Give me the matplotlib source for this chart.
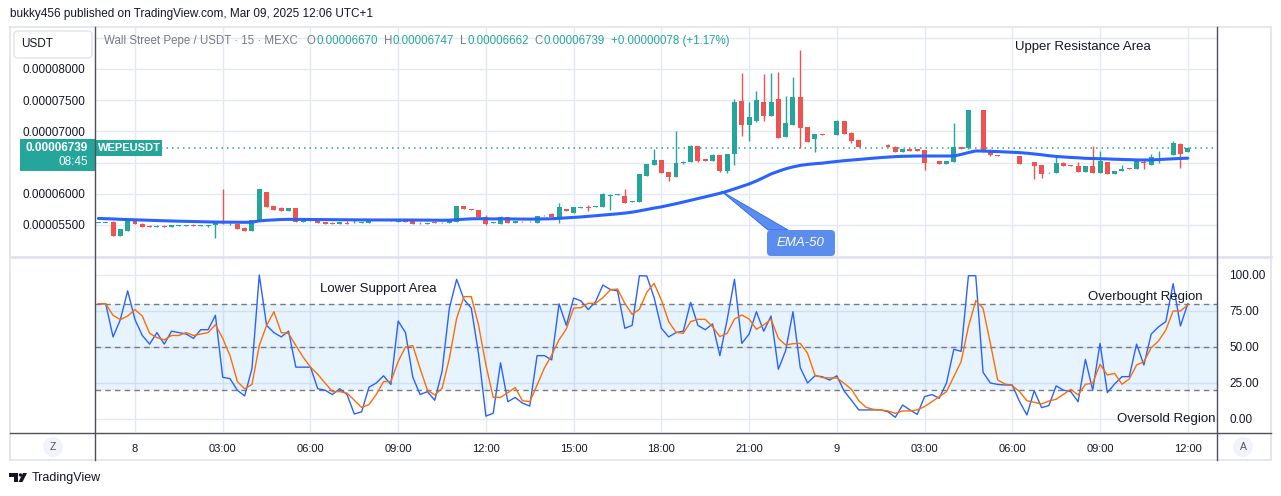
import numpy as np
import matplotlib
matplotlib.use("Agg")
import matplotlib.pyplot as plt
from matplotlib.patches import Rectangle, FancyBboxPatch, Polygon, Ellipse
from matplotlib.lines import Line2D
from matplotlib.transforms import IdentityTransform

plt.rcParams['font.family'] = ['Liberation Sans', 'DejaVu Sans']

# WEPE/USDT 15m candles, prices in units of 1e-8 USDT, first bar = 22:45 (index -5)
first_bar = -5
opens = [5542, 5544, 5552, 5320, 5400,
         5580, 5516, 5482, 5464, 5490, 5470, 5490, 5490, 5492, 5486,
         5484, 5504, 5542, 5510, 5515, 5450, 5404, 5563, 6028, 5804,
         5767, 5724, 5772, 5547, 5590, 5580, 5547, 5535, 5515, 5537,
         5530, 5530, 5532, 5578, 5588, 5592, 5547, 5580, 5580, 5535,
         5525, 5547, 5527, 5527, 5553, 5804, 5752, 5740, 5630, 5532,
         5519, 5628, 5536, 5550, 5550, 5537, 5640, 5676, 5633, 5756,
         5698, 5780, 5786, 5788, 5793, 5972, 5982, 5964, 5875, 5873,
         6290, 6466, 6541, 6349, 6274, 6488, 6509, 6766, 6557, 6520,
         6621, 6360, 6637, 7487, 7108, 7172, 7476, 7252, 7519, 6915,
         7108, 7551, 7065, 6883, 6950, 6955, 6942, 7166, 6979, 6862,
         6762, 6762, 6762, 6776, 6755, 6675, 6718, 6712, 6702, 6522,
         6525, 6482, 6515, 6750, 6728, 7340, 7343, 6691, 6618, 6608,
         6602, 6605, 6490, 6509, 6461, 6330, 6333, 6493, 6452, 6445,
         6354, 6445, 6338, 6509, 6322, 6370, 6410, 6402, 6515, 6466,
         6618, 6634, 6626, 6803, 6670]
highs = [5546, 5547, 5556, 5440, 5612,
         5586, 5524, 5492, 5494, 5494, 5500, 5506, 5506, 5518, 5502,
         5492, 5546, 6076, 5524, 5520, 5465, 5586, 6082, 6032, 5808,
         5782, 5774, 5776, 5582, 5594, 5584, 5550, 5546, 5550, 5560,
         5580, 5540, 5583, 5586, 5596, 5596, 5584, 5602, 5584, 5540,
         5532, 5556, 5540, 5594, 5808, 5808, 5755, 5745, 5665, 5542,
         5636, 5632, 5570, 5556, 5556, 5648, 5652, 5690, 5852, 5760,
         5786, 5790, 5820, 5800, 6017, 5990, 5992, 6071, 5886, 6320,
         6480, 6723, 6545, 6352, 7006, 6525, 6780, 6770, 6560, 6630,
         6624, 6640, 7514, 7930, 7476, 7647, 7920, 7940, 7957, 7567,
         7877, 8305, 7075, 6960, 6955, 6962, 7180, 7170, 6985, 6866,
         6770, 6770, 6770, 6790, 6760, 6722, 6722, 6716, 6706, 6530,
         6530, 6528, 7140, 6755, 7346, 7350, 7346, 6720, 6622, 6612,
         6612, 6608, 6500, 6512, 6465, 6345, 6595, 6505, 6456, 6515,
         6449, 6766, 6686, 6512, 6369, 6461, 6414, 6545, 6552, 6637,
         6686, 6645, 6846, 6810, 6747]
lows = [5540, 5541, 5318, 5316, 5396,
        5512, 5464, 5466, 5462, 5460, 5468, 5488, 5487, 5480, 5484,
        5462, 5291, 5520, 5506, 5430, 5395, 5400, 5560, 5785, 5738,
        5722, 5722, 5545, 5545, 5558, 5532, 5512, 5512, 5512, 5515,
        5526, 5527, 5530, 5575, 5585, 5560, 5545, 5545, 5512, 5522,
        5522, 5524, 5524, 5524, 5550, 5748, 5744, 5620, 5505, 5528,
        5516, 5530, 5530, 5540, 5540, 5534, 5637, 5630, 5536, 5726,
        5695, 5777, 5730, 5785, 5790, 5740, 5978, 5855, 5872, 5870,
        6286, 6463, 6335, 6199, 6270, 6480, 6505, 6505, 6517, 6517,
        6356, 6340, 6456, 6931, 6846, 7150, 7172, 7240, 6890, 6905,
        7100, 6728, 6825, 6675, 6943, 6952, 6938, 6955, 6808, 6752,
        6758, 6758, 6758, 6752, 6672, 6672, 6688, 6688, 6381, 6519,
        6479, 6479, 6512, 6715, 6725, 7338, 6676, 6612, 6608, 6598,
        6598, 6478, 6486, 6242, 6253, 6326, 6330, 6447, 6444, 6350,
        6350, 6334, 6335, 6318, 6318, 6367, 6400, 6398, 6402, 6462,
        6488, 6630, 6622, 6418, 6662]
closes = [5545, 5546, 5323, 5435, 5580,
          5516, 5468, 5470, 5490, 5464, 5492, 5497, 5498, 5482, 5494,
          5488, 5542, 5530, 5521, 5435, 5408, 5580, 6076, 5788, 5740,
          5724, 5772, 5547, 5580, 5560, 5535, 5515, 5515, 5547, 5518,
          5535, 5537, 5580, 5583, 5593, 5563, 5580, 5547, 5515, 5525,
          5530, 5527, 5537, 5590, 5804, 5750, 5746, 5623, 5510, 5538,
          5631, 5532, 5558, 5543, 5543, 5644, 5646, 5633, 5783, 5729,
          5783, 5786, 5780, 5795, 5996, 5978, 5988, 5857, 5882, 6317,
          6477, 6541, 6338, 6274, 6488, 6509, 6766, 6531, 6520, 6621,
          6360, 6637, 7476, 7108, 7225, 7503, 7247, 7476, 6899, 7140,
          7551, 7060, 6835, 6953, 6945, 6960, 7166, 6958, 6851, 6755,
          6768, 6768, 6768, 6755, 6675, 6718, 6691, 6691, 6498, 6528,
          6482, 6525, 6750, 6718, 7343, 7346, 6680, 6616, 6612, 6602,
          6608, 6482, 6496, 6445, 6322, 6336, 6493, 6450, 6448, 6354,
          6445, 6338, 6525, 6322, 6365, 6402, 6405, 6541, 6488, 6584,
          6624, 6640, 6814, 6637, 6739]
ema50 = [5604, 5600, 5596, 5590, 5586,
         5582, 5578, 5573, 5569, 5566, 5563, 5560, 5557, 5554, 5551,
         5548, 5546, 5545, 5544, 5543, 5542, 5544, 5565, 5574, 5581,
         5587, 5590, 5589, 5589, 5588, 5587, 5586, 5584, 5583, 5582,
         5581, 5580, 5580, 5580, 5580, 5580, 5580, 5580, 5579, 5578,
         5577, 5576, 5575, 5576, 5585, 5592, 5598, 5600, 5598, 5596,
         5598, 5596, 5595, 5594, 5593, 5595, 5597, 5599, 5606, 5612,
         5620, 5628, 5638, 5648, 5658, 5668, 5678, 5690, 5705, 5725,
         5748, 5770, 5790, 5815, 5840, 5868, 5895, 5922, 5950, 5978,
         6007, 6040, 6078, 6118, 6157, 6205, 6260, 6317, 6360, 6400,
         6430, 6455, 6470, 6482, 6490, 6505, 6518, 6530, 6540, 6550,
         6560, 6570, 6580, 6588, 6595, 6600, 6603, 6605, 6605, 6605,
         6605, 6605, 6605, 6630, 6660, 6686, 6684, 6680, 6676, 6670,
         6664, 6659, 6650, 6638, 6625, 6610, 6598, 6590, 6582, 6576,
         6568, 6565, 6562, 6558, 6553, 6550, 6546, 6542, 6541, 6542,
         6548, 6553, 6560, 6566, 6570]
stoch_k = [80, 80, 57, 69, 89,
           69, 58, 52, 60, 52, 61, 60, 59, 56, 62,
           62, 72, 29, 28, 20, 16, 35, 100, 65, 60,
           57, 61, 36, 36, 36, 21, 20, 17, 21, 17,
           3.5, 5, 22, 25, 30, 24, 68, 60, 29, 17,
           19, 13, 33, 77, 97, 83, 77, 45, 2, 4,
           39, 12, 15, 11, 9, 44, 44, 41, 80, 65,
           84, 82, 76, 81.5, 93, 90, 89, 63, 65, 99.5,
           99.3, 84.5, 63, 57, 60, 61, 81, 65, 62, 66,
           44, 69, 97, 52.5, 59, 74.5, 61, 71.5, 34.5, 47.5,
           74.5, 35.6, 25, 30, 29.4, 27, 30, 19.4, 13, 6.3,
           6.3, 6.3, 6.3, 5, 1.2, 9.7, 6.3, 3.2, 15.5, 17,
           14.4, 25, 48.4, 47, 99.5, 99.5, 32.4, 25, 24, 23.6,
           23.6, 12, 2.8, 19.7, 7.9, 9.3, 23, 20, 19, 12,
           41.4, 20, 52.5, 18.3, 24.3, 29.4, 29.4, 52, 37.5, 59,
           64, 67.6, 94, 64.6, 80]
stoch_d = [80, 80, 72, 69, 71.5,
           76, 71.5, 59.5, 56.5, 55, 58, 58, 60, 58, 59,
           60, 65.5, 56, 44, 26, 21, 24, 51, 65, 74.5,
           60, 59.5, 51, 43, 36, 31, 25, 19, 19, 18,
           13, 8, 10, 17, 26, 26, 40, 50, 51, 35,
           20, 16.7, 21.3, 42, 70, 85, 85, 65, 37.5, 15,
           15, 18.3, 21.8, 12.7, 12, 23.6, 35.4, 44.4, 55, 62.5,
           77, 77.3, 80.3, 80.3, 84.3, 89.6, 90.3, 80.3, 72.7, 76.2,
           88, 94.2, 82.6, 67.6, 60.2, 59.5, 67.6, 69.2, 69.2, 64.1,
           57.2, 59.5, 69.4, 72.2, 69.4, 62.3, 65.3, 69.4, 56, 51.4,
           52.3, 52.5, 45.6, 30.6, 28.7, 28.5, 28.5, 24.8, 20.6, 12.7,
           8.1, 6.7, 6.3, 5.6, 3.9, 5.6, 5.6, 6.3, 8.6, 12,
           15.5, 19, 29.4, 39.8, 64.1, 82.2, 76.9, 52.5, 27.1, 24.3,
           23.1, 19, 12.7, 11.6, 10.4, 12.5, 13.7, 17.1, 20.6, 16.7,
           24.1, 24.8, 38, 30.6, 31.7, 24.1, 27.8, 37.5, 39.8, 49.5,
           54.2, 61.8, 75, 75, 79.2]

last_price = 6739
price_ticks = [5500, 6000, 6500, 7000, 7500, 8000, 8500]
# 0.00006500 and 0.00008500 sit under the price tag / USDT box in the original
price_tick_labels = ['0.00005500', '0.00006000', '', '0.00007000', '0.00007500',
                     '0.00008000', '']
stoch_ticks = [0, 25, 50, 75, 100]
time_tick_bars = [0, 12, 24, 36, 48, 60, 72, 84, 96, 108, 120, 132, 144]
time_tick_labels = ['8', '03:00', '06:00', '09:00', '12:00', '15:00', '18:00',
                    '21:00', '9', '03:00', '06:00', '09:00', '12:00']

W, H = 1281, 496
GREEN = '#26a69a'
RED = '#ef5350'
GRID = '#e3e9f0'
TXT = '#131722'
GRAY = '#787b86'
DARK = '#4e505a'
FRAME = '#e0e3eb'

fig = plt.figure(figsize=(W / 100, H / 100), dpi=100)
fig.patch.set_facecolor('white')
PX = IdentityTransform()


def fx(x):
    return x / W


def fy(y):
    return 1 - y / H


def rect(x0, y0, x1, y1):
    return [fx(x0), fy(y1), (x1 - x0) / W, (y1 - y0) / H]


ax = fig.add_axes(rect(95, 28, 1217, 256))
ax2 = fig.add_axes(rect(95, 258, 1217, 432))

# price pane
o = np.array(opens, float)
hi = np.array(highs, float)
lo = np.array(lows, float)
c = np.array(closes, float)
xs = np.arange(len(c)) + first_bar
cols = np.where(c >= o, GREEN, RED)
ax.vlines(xs, lo, hi, colors=cols, lw=1, zorder=3)
body = np.maximum(np.abs(c - o), 13)
ax.bar(xs, body, 0.68, (o + c) / 2 - body / 2, color=cols, lw=0, zorder=4)
xe = np.arange(len(ema50)) + first_bar
ax.plot(xe, ema50, color='#2962ff', lw=2.2, zorder=5, solid_capstyle='round')
ax.axhline(last_price, color=GREEN, lw=1.1, ls=(0, (1, 2.6)), zorder=2)

ax.set_xlim(-5.47, 148.0)
ax.set_ylim(5002, 8657)
ax.set_yticks(price_ticks)
ax.set_yticklabels(price_tick_labels)
ax.set_xticks(time_tick_bars)
ax.set_xticklabels([])
ax.tick_params(length=0)
ax.tick_params(axis='y', pad=7, labelsize=8.5, labelcolor=TXT)
ax.grid(True, color=GRID, lw=1)
ax.set_axisbelow(True)
for s in ax.spines.values():
    s.set_visible(False)

# stochastic pane
ax2.axhspan(20, 80, color='#2196f3', alpha=0.1, lw=0, zorder=1)
for lvl in (80, 50, 20):
    ax2.axhline(lvl, color=GRAY, lw=1, ls=(0, (4, 3)), zorder=2)
xk = np.arange(len(stoch_k)) + first_bar
xd = np.arange(len(stoch_d)) + first_bar
ax2.plot(xk, stoch_k, color='#2962ff', lw=1, zorder=4)
ax2.plot(xd, stoch_d, color='#ff6d00', lw=1, zorder=5)
ax2.set_xlim(-5.47, 148.0)
ax2.set_ylim(-9.03, 111.8)
ax2.set_yticks(stoch_ticks)
ax2.set_yticklabels([f"{v:.2f}" for v in stoch_ticks])
ax2.yaxis.tick_right()
ax2.set_xticks(time_tick_bars)
ax2.set_xticklabels(time_tick_labels)
ax2.tick_params(length=0)
ax2.tick_params(axis='y', pad=9, labelsize=8.5, labelcolor=TXT)
ax2.tick_params(axis='x', pad=9, labelsize=8, labelcolor=TXT)
ax2.grid(True, color=GRID, lw=1)
ax2.set_axisbelow(True)
for s in ax2.spines.values():
    s.set_visible(False)

# frame lines
def hline(y, x0, x1, color, lw):
    fig.add_artist(Line2D([fx(x0), fx(x1)], [fy(y), fy(y)], color=color, lw=lw))


def vline(x, y0, y1, color, lw):
    fig.add_artist(Line2D([fx(x), fx(x)], [fy(y0), fy(y1)], color=color, lw=lw))


hline(27, 10, 1271, FRAME, 1.2)
hline(460, 10, 1271, FRAME, 1.2)
vline(10, 27, 460, FRAME, 1.2)
vline(1271, 27, 460, FRAME, 1.2)
hline(257, 10, 1271, FRAME, 2)
hline(432.5, 10, 1271, DARK, 1)
vline(95, 27, 460, DARK, 1)
vline(1217, 27, 460, DARK, 1)

# header
fig.text(fx(10), fy(14), "bukky456 published on TradingView.com, Mar 09, 2025 12:06 UTC+1",
         fontsize=8.5, color=TXT, va='center', ha='left')

# legend line, laid out piece by piece with measured widths
legend_parts = [("Wall Street Pepe / USDT · 15 · MEXC", GRAY, 9),
                ("O", GRAY, 0.5), ("0.00006670", GREEN, 6),
                ("H", GRAY, 0.5), ("0.00006747", GREEN, 6),
                ("L", GRAY, 0.5), ("0.00006662", GREEN, 6),
                ("C", GRAY, 0.5), ("0.00006739", GREEN, 6),
                ("+0.00000078 (+1.17%)", GREEN, 0)]
renderer = fig.canvas.get_renderer()
x = 104
for s, col, gap in legend_parts:
    t = fig.text(fx(x), fy(41), s, fontsize=8.3, color=col, va='center', ha='left')
    x = t.get_window_extent(renderer).x1 + gap

# USDT box
fig.add_artist(FancyBboxPatch((14, H - 58), 78, 27, boxstyle='round,pad=0,rounding_size=4',
                              fc='white', ec=FRAME, lw=1, transform=PX))
fig.text(fx(37), fy(44), "USDT", fontsize=8.5, color=TXT, va='center', ha='center')

# last price label
fig.add_artist(Rectangle((20, H - 171), 75, 32, fc=GREEN, ec='none', transform=PX))
fig.text(fx(88), fy(148), "0.00006739", fontsize=8.5, color='white', weight='bold',
         va='center', ha='right')
fig.text(fx(88), fy(162), "08:45", fontsize=8.5, color='white', va='center', ha='right')
fig.add_artist(Rectangle((96, H - 156), 66, 16, fc=GREEN, ec='none', transform=PX))
fig.text(fx(129), fy(148), "WEPEUSDT", fontsize=8, color='white', weight='bold',
         va='center', ha='center')

# EMA-50 callout
fig.add_artist(Polygon([(721, H - 191), (768, H - 230), (788, H - 230)], closed=True,
                       fc='#5b8def', ec='#2962ff', lw=0.6, transform=PX))
fig.add_artist(FancyBboxPatch((767, H - 256), 68, 26, boxstyle='round,pad=0,rounding_size=4',
                              fc='#5b8def', ec='none', transform=PX))
fig.text(fx(801), fy(243), "EMA-50", fontsize=9.5, color='white', style='italic',
         va='center', ha='center')

# chart notes
notes = [(1015, 47, "Upper Resistance Area"), (320, 289, "Lower Support Area"),
         (1088, 297, "Overbought Region"), (1117, 419, "Oversold Region")]
for x0, y0, s in notes:
    fig.text(fx(x0), fy(y0), s, fontsize=9.5, color=TXT, va='center', ha='left')

# Z / A buttons
for x0, s in ((53, "Z"), (1243, "A")):
    fig.add_artist(Ellipse((x0, H - 447), 20, 20, fc='#f0f3fa', ec='none', transform=PX))
    fig.text(fx(x0), fy(447), s, fontsize=7.5, color='#50535e', va='center', ha='center')

# TradingView logo
fig.add_artist(Polygon([(9, H - 473), (18, H - 473), (18, H - 482), (14, H - 482),
                        (14, H - 476.5), (9, H - 476.5)], closed=True, fc=TXT, ec='none',
                       transform=PX))
fig.add_artist(Ellipse((20.5, H - 475), 3.4, 3.4, fc=TXT, ec='none', transform=PX))
fig.add_artist(Polygon([(23, H - 473), (27, H - 473), (22.5, H - 482), (18.5, H - 482)],
                       closed=True, fc=TXT, ec='none', transform=PX))
fig.text(fx(32), fy(478), "TradingView", fontsize=9, color=TXT, va='center', ha='left')

fig.savefig("out.png", dpi=100, facecolor='white')
